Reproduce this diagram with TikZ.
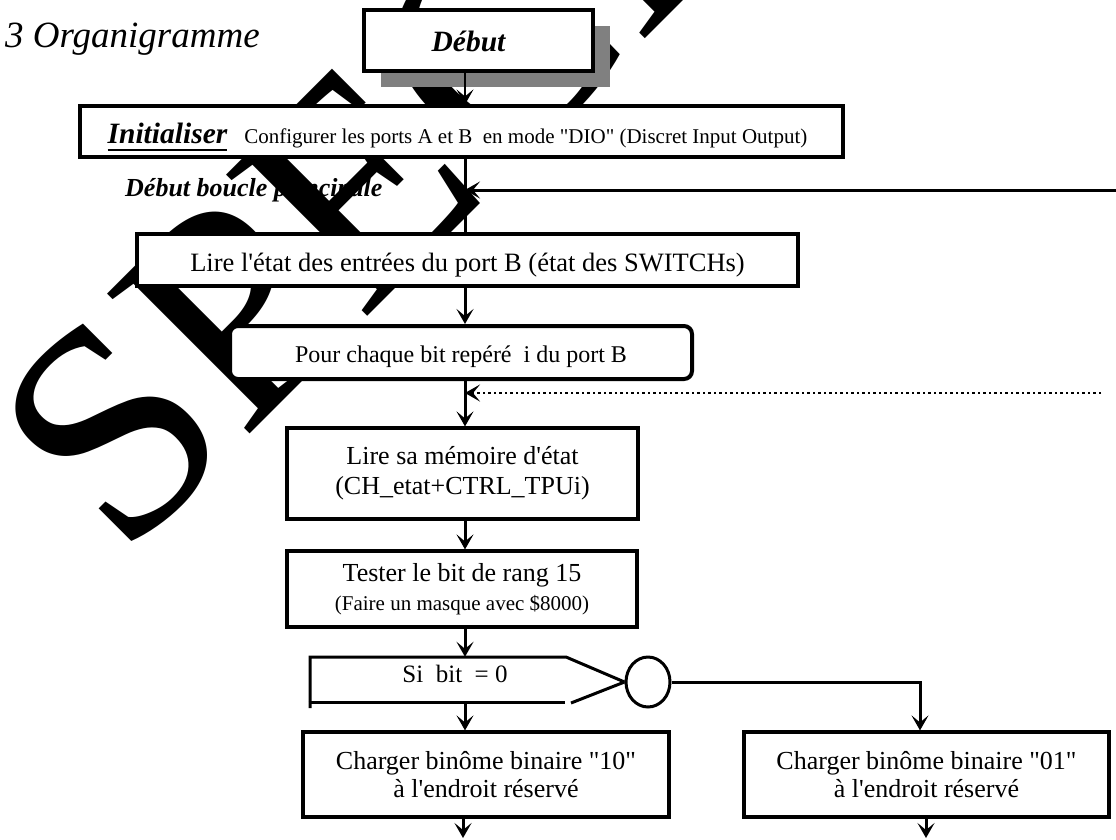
\documentclass[tikz,border=0pt]{standalone}
\usepackage{fontspec}
\usetikzlibrary{arrows.meta,shapes.geometric}
\newfontfamily\tnr{Liberation Serif}
\newcommand\fsz[2]{\fontsize{#1}{#2}\selectfont}
\newcommand\ulabel[1]{\vtop{\hbox{#1}\kern5pt\hrule height 2pt}}
\definecolor{ombre}{HTML}{808080}
\begin{document}
\begin{tikzpicture}[x=1pt,y=-1pt,
  box/.style={draw, line width=3.2pt, fill=white, inner sep=0pt, align=center, font=\tnr},
  con/.style={line width=3pt, -{Stealth[length=15pt,width=17pt,inset=7pt]}},
  trait/.style={line width=3pt},
  pointille/.style={line width=2.5pt, dash pattern=on 2.5pt off 3pt},
  libre/.style={anchor=base west, inner sep=0pt},
]
\useasboundingbox (0,0) rectangle (1116,839);
\clip (0,0) rectangle (1116,839);

% free texts
\node[libre, font=\tnr\itshape\fsz{37}{40}] (titre) at (5,47) {3 Organigramme};
\node[libre, font=\tnr\bfseries\itshape\fsz{26}{30}] (boucle) at (125,196) {Début boucle principale};

% watermark
\node[anchor=base west, rotate=45, inner sep=0pt, font=\tnr\fsz{305}{305}] (filigrane) at (122,562) {SPECIMEN};

% column of the main flow
\coordinate (trunk) at (465,0);
\coordinate (br) at (920,0);

% boxes
\fill[ombre] (381,26) rectangle (610,87);
\node[box, minimum width=229, text height=41pt, text depth=20pt, font=\tnr\bfseries\itshape\fsz{29.5}{30}] (debut) at (478.5,40.5) {Début\hspace*{20pt}};

\node[box, minimum width=763, text height=37.5pt, text depth=13.5pt] (init) at (461.5,131.5)
  {\hspace*{-8pt}{\bfseries\itshape\fsz{29.5}{30}\ulabel{Initialiser}}\hspace{17pt}{\fsz{21}{24}Configurer les ports A et B\ \ en mode "DIO" (Discret Input Output)}};

\node[box, minimum width=661, text height=37pt, text depth=15pt, font=\tnr\fsz{26.5}{30}] (lire) at (467.5,260)
  {Lire l'état des entrées du port B (état des SWITCHs)};

\node[box, line width=4pt, rounded corners=8pt, minimum width=462, text height=36pt, text depth=17pt, font=\tnr\fsz{24}{28}] (pour) at (461,352.5)
  {Pour chaque bit repéré\ \ i du port B};

\node[box, minimum width=351, minimum height=91, font=\tnr\fsz{26}{30}] (mem) at (462.5,473.5)
  {Lire sa mémoire d'état\\(CH\_etat+CTRL\_TPUi)};

\node[box, minimum width=350, minimum height=76, font=\tnr\fsz{26}{29}] (test) at (462,589)
  {Tester le bit de rang 15\\{\fsz{21}{29}(Faire un masque avec \$8000)}};

\node[ellipse, draw, line width=3pt, minimum width=44, minimum height=50, inner sep=0pt] (circ) at (648,682) {};
\node[inner sep=0pt, text height=25pt, text depth=20pt, font=\tnr\fsz{25}{28}] (si) at (455,679.5) {Si\ \ bit\ \ = 0};
\draw[trait] (310,708) -- (310,657) -- (566,657) -- (circ.west);
\draw[trait] (308.5,702) -- (565,702);
\draw[trait] (571,703) -- (circ.west);

\node[box, minimum width=366, minimum height=85, font=\tnr\fsz{26}{28}] (c10) at (486,774.5)
  {Charger binôme binaire "10"\\à l'endroit réservé};
\node[box, minimum width=365, minimum height=85, font=\tnr\fsz{26}{28}] (c01) at (926.5,774.5)
  {Charger binôme binaire "01"\\à l'endroit réservé};

% connectors
\draw[con, line width=2pt] (debut.south -| trunk) -- (init.north -| trunk);
\draw[trait] (init.south -| trunk) -- (lire.north -| trunk);
\coordinate (retour) at (1116,190);
\draw[con] (retour) -- (retour -| trunk);
\draw[con] (lire.south -| trunk) -- (pour.north -| trunk);
\draw[con] (pour.south -| trunk) -- (mem.north -| trunk);
\coordinate (bouclebit) at (1101,393);
\draw[con, pointille] (bouclebit) -- (bouclebit -| trunk);
\draw[con] (mem.south -| trunk) -- (test.north -| trunk);
\draw[con] (test.south -| trunk) -- (si.north -| trunk);
\draw[con] (si.south -| trunk) -- (c10.north -| trunk);
\draw[con] (circ.east) -| (c01.north -| br);
\coordinate (fin10) at (463,838);
\coordinate (fin01) at (926,838);
\draw[con] (c10.south -| fin10) -- (fin10);
\draw[con] (c01.south -| fin01) -- (fin01);
\end{tikzpicture}
\end{document}
